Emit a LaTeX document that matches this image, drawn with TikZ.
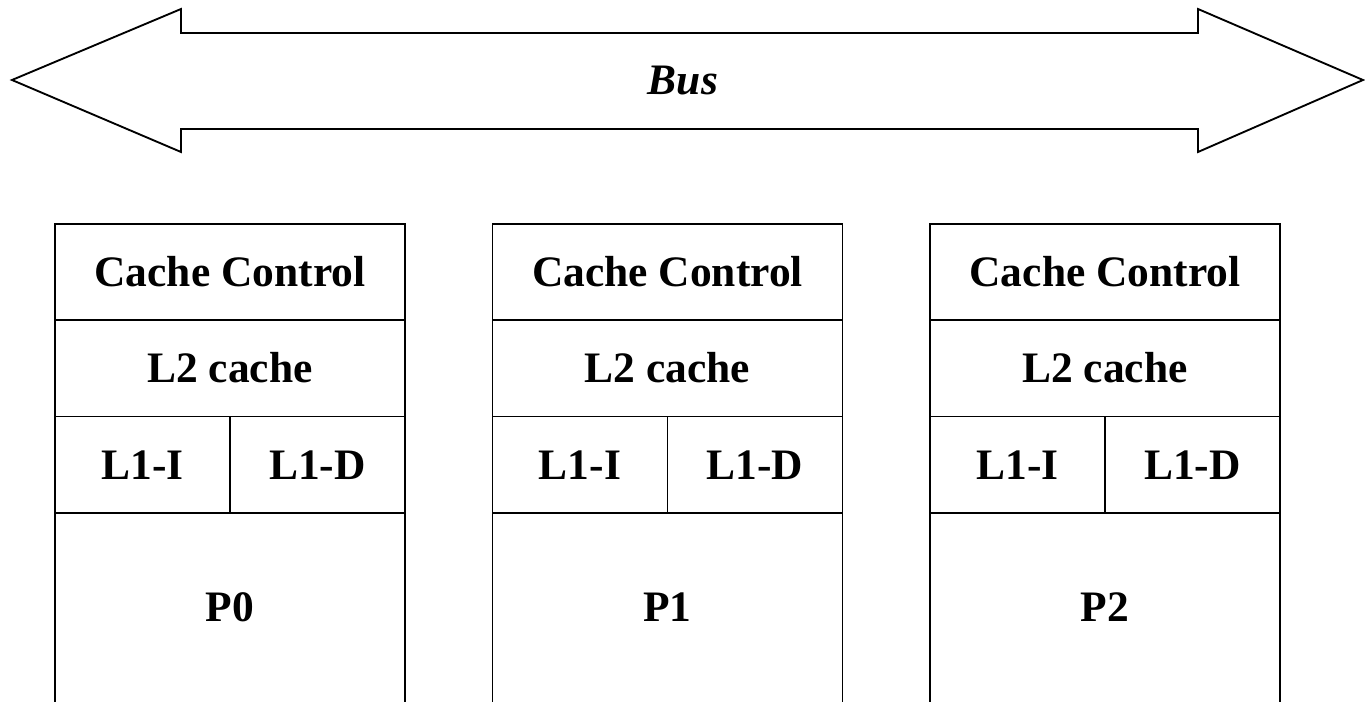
\documentclass[tikz,border=0pt]{standalone}
\usepackage{fontspec}
\setmainfont{Liberation Serif}
\usepackage{tikz}
\usetikzlibrary{positioning}
\tikzstyle{outline} = [line width=1.4pt, line join=miter]
\tikzstyle{cellText} = [font=\fontsize{32.6}{39}\selectfont\bfseries, inner sep=0pt, text height=21.6pt, text depth=0pt]
\tikzstyle{cell} = [draw, outline, cellText, outer sep=0pt, minimum height=72.2pt]

\begin{document}
\begin{tikzpicture}[x=0.75pt, y=-0.75pt]
    \useasboundingbox (0,0) rectangle (1365,702);
    % bus
    \draw [outline] (12,80) -- (181,9) -- (181,33) -- (1198,33) -- (1198,9) -- (1363,80)
        -- (1198,152) -- (1198,129) -- (181,129) -- (181,152) -- cycle;
    \node (bus) [cellText, font=\fontsize{32.6}{39}\selectfont\bfseries\itshape] at (683,80) {Bus};
    % processors
    \foreach \i/\x in {0/55, 1/492.5, 2/930} {
        \node (cc\i) [cell, minimum width=262.5pt, anchor=north west] at (\x,224) {Cache Control};
        \node (l2\i) [cell, minimum width=262.5pt, below=0pt of cc\i] {L2 cache};
        \node (l1i\i) [cell, minimum width=131.25pt, below=0pt of l2\i.south west, anchor=north west] {L1-I};
        \node (l1d\i) [cell, minimum width=131.25pt, right=0pt of l1i\i] {L1-D};
        \draw [outline] (l1i\i.south west) -- ++(0,190);
        \draw [outline] (l1d\i.south east) -- ++(0,190);
        \node (p\i) [cellText] at (\x+175,607.5) {P\i};
    }
\end{tikzpicture}
\end{document}
